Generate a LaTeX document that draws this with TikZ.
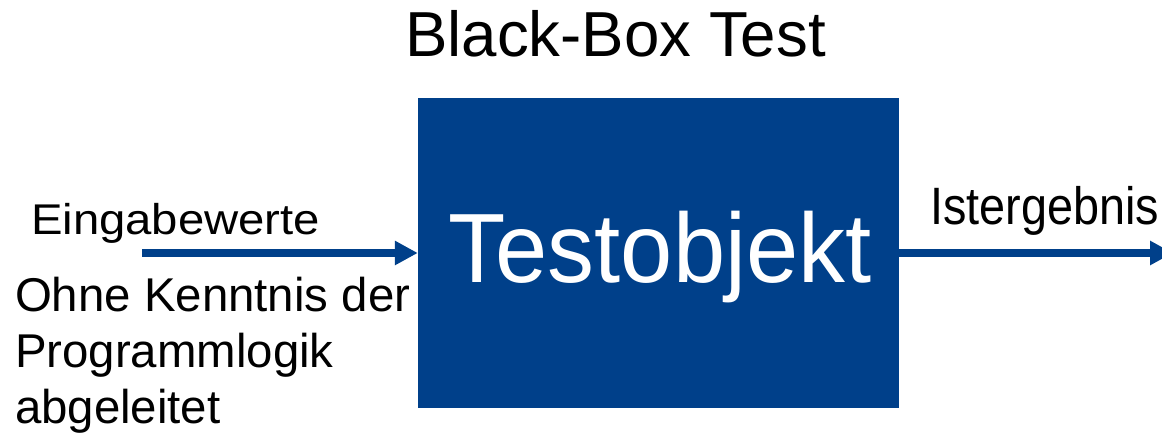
\documentclass[tikz,border=0pt]{standalone}
\usepackage{fontspec}
\setmainfont{Liberation Sans}
\usetikzlibrary{arrows.meta}
\definecolor{boxblue}{RGB}{0,64,138}
\tikzset{
  objbox/.style={rectangle,fill=boxblue,draw=none,minimum width=481pt,minimum height=310pt,inner sep=0pt},
  flow/.style={draw=boxblue,line width=8.5pt,-{Triangle[length=23pt,width=23pt]}},
  lbl/.style={inner sep=0pt,outer sep=0pt}
}
\begin{document}
\begin{tikzpicture}[x=1pt,y=-1pt]
\useasboundingbox (0,0) rectangle (1162,438);

\node[lbl,anchor=base] (title) at (615.5,57) {\fontsize{63.6}{70}\selectfont Black-Box Test};

\node[objbox] (box) at (658.5,253) {};
\node[lbl,anchor=base,text=white,yscale=1.05] (obj) at ([xshift=1.5pt,yshift=-30pt]box.center)
  {\fontsize{93.8}{100}\selectfont Testobjekt};

\node[lbl,anchor=base west,xscale=1.1] (inp) at (31,235) {\fontsize{43}{50}\selectfont Eingabewerte};
\node[lbl,anchor=base west,xscale=0.89] (outp) at (930,225) {\fontsize{52.6}{60}\selectfont Istergebnis};

\node[lbl,anchor=north west,align=left,font=\fontsize{47.4}{56}\selectfont] (note) at (15,277.5)
  {Ohne Kenntnis der\\Programmlogik\\abgeleitet};

\coordinate (instart) at (142,253);
\coordinate (outend) at (1173,253);
\draw[flow] (instart) -- (box.west);
\draw[flow] (box.east) -- (outend);
\end{tikzpicture}
\end{document}
